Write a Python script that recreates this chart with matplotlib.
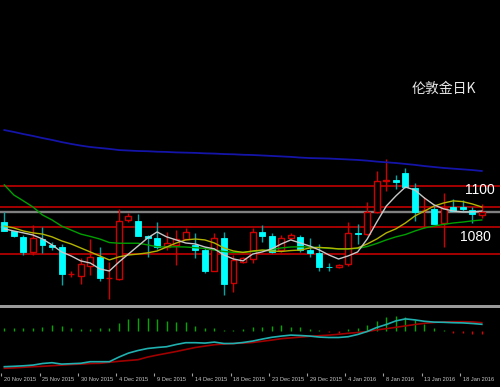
import matplotlib
matplotlib.use('Agg')
import matplotlib.pyplot as plt
from matplotlib.patches import Rectangle
import matplotlib.transforms as mtransforms

# ---------------- data ----------------
date_labels = ['20 Nov 2015', '25 Nov 2015', '30 Nov 2015', '4 Dec 2015', '9 Dec 2015',
               '14 Dec 2015', '18 Dec 2015', '23 Dec 2015', '29 Dec 2015', '4 Jan 2016',
               '8 Jan 2016', '13 Jan 2016', '18 Jan 2016']
date_pos = [0, 4, 8, 12, 16, 20, 24, 28, 32, 36, 40, 44, 48]

opens = [1093.8, 1089.8, 1087.4, 1081.0, 1086.3, 1083.8, 1083.1, 1071.5, 1070.7, 1075.0,
         1078.6, 1069.7, 1069.4, 1094.5, 1094.1, 1087.7, 1086.7, 1083.1, 1083.8, 1086.3,
         1083.8, 1081.7, 1072.9, 1086.7, 1067.6, 1076.8, 1077.8, 1089.5, 1087.7, 1081.7,
         1086.7, 1087.4, 1081.7, 1080.6, 1074.6, 1074.4, 1075.8, 1089.1, 1088.4, 1097.7,
         1111.2, 1111.5, 1114.3, 1108.0, 1098.7, 1099.0, 1093.1, 1099.9, 1100.1, 1098.7,
         1096.6]
highs = [1098.0, 1090.0, 1088.1, 1092.3, 1091.4, 1085.0, 1084.3, 1072.9, 1078.2, 1086.3,
         1083.1, 1076.8, 1099.0, 1097.6, 1097.0, 1087.9, 1093.8, 1089.5, 1090.2, 1090.9,
         1089.1, 1083.1, 1088.8, 1089.2, 1079.6, 1078.7, 1091.2, 1092.3, 1089.1, 1088.1,
         1088.8, 1088.1, 1086.7, 1084.3, 1076.1, 1075.6, 1093.8, 1092.8, 1102.3, 1115.4,
         1120.3, 1113.6, 1116.4, 1110.1, 1104.4, 1100.4, 1106.1, 1103.3, 1103.0, 1099.9,
         1101.3]
lows = [1089.6, 1087.2, 1079.6, 1079.6, 1080.6, 1081.7, 1066.9, 1070.1, 1067.3, 1071.1,
        1068.7, 1060.9, 1069.0, 1093.8, 1087.7, 1078.9, 1082.0, 1081.7, 1075.4, 1086.2,
        1078.2, 1072.1, 1072.7, 1062.6, 1064.0, 1076.3, 1076.3, 1085.0, 1080.3, 1081.0,
        1086.3, 1081.0, 1078.9, 1072.8, 1072.9, 1074.1, 1075.0, 1084.1, 1088.2, 1097.5,
        1106.9, 1107.5, 1108.2, 1094.2, 1090.9, 1092.6, 1083.1, 1098.0, 1098.0, 1093.3,
        1095.5]
closes = [1089.8, 1087.8, 1081.0, 1086.7, 1083.8, 1083.1, 1071.5, 1071.6, 1075.6, 1078.6,
          1069.7, 1069.8, 1094.2, 1096.2, 1087.8, 1086.7, 1083.1, 1084.6, 1086.3, 1089.2,
          1081.7, 1072.9, 1086.7, 1067.3, 1077.5, 1078.5, 1089.5, 1087.7, 1081.0, 1086.7,
          1088.1, 1081.7, 1080.6, 1074.6, 1074.5, 1075.4, 1089.1, 1088.5, 1097.7, 1111.2,
          1111.3, 1110.8, 1108.4, 1098.0, 1098.8, 1092.8, 1099.7, 1098.3, 1099.0, 1096.9,
          1098.0]

ma_white = [1090.7, 1089.8, 1089.0, 1088.1, 1086.4, 1083.9, 1080.9, 1079.2, 1077.1, 1076.2,
            1073.7, 1072.8, 1076.6, 1080.0, 1083.4, 1086.8, 1089.4, 1087.3, 1086.0, 1084.7,
            1084.3, 1083.0, 1082.2, 1079.6, 1077.9, 1077.1, 1080.0, 1080.9, 1082.2, 1084.3,
            1086.0, 1084.7, 1083.4, 1081.7, 1079.6, 1077.9, 1079.2, 1080.9, 1086.4, 1093.6,
            1100.4, 1104.7, 1108.5, 1107.2, 1103.8, 1100.9, 1099.2, 1098.3, 1097.9, 1097.9,
            1098.3]
ma_yellow = [1091.9, 1091.1, 1089.8, 1089.0, 1088.5, 1087.3, 1085.6, 1084.3, 1082.6, 1080.9,
             1079.2, 1077.5, 1078.8, 1079.6, 1080.0, 1080.5, 1081.3, 1083.0, 1084.7, 1086.0,
             1086.4, 1086.0, 1084.7, 1082.6, 1081.3, 1080.7, 1081.3, 1081.7, 1081.3, 1081.1,
             1081.5, 1081.7, 1082.6, 1082.8, 1082.6, 1082.2, 1082.2, 1082.6, 1084.3, 1086.4,
             1089.0, 1090.7, 1093.2, 1096.2, 1098.3, 1100.4, 1101.7, 1102.6, 1102.3, 1101.3,
             1100.0]
ma_green = [1109.4, 1105.1, 1102.6, 1100.0, 1096.6, 1094.5, 1091.9, 1090.2, 1088.5, 1087.5,
            1086.4, 1084.9, 1084.6, 1084.6, 1084.6, 1083.9, 1083.1, 1083.0, 1083.1, 1083.0,
            1082.7, 1082.4, 1081.7, 1081.1, 1080.7, 1080.7, 1081.1, 1081.5, 1081.9, 1082.6,
            1083.0, 1083.1, 1083.0, 1082.8, 1082.4, 1082.2, 1082.2, 1082.4, 1083.2, 1084.5,
            1086.0, 1087.3, 1088.3, 1089.8, 1091.1, 1091.9, 1092.6, 1093.2, 1093.6, 1094.1,
            1094.5]
ma_blue = [1132.7, 1131.9, 1131.0, 1130.2, 1129.3, 1128.5, 1127.6, 1126.8, 1126.1, 1125.5,
           1125.1, 1124.7, 1124.2, 1124.0, 1123.8, 1123.7, 1123.5, 1123.4, 1123.2, 1123.1,
           1123.0, 1122.8, 1122.7, 1122.5, 1122.4, 1122.2, 1122.1, 1121.9, 1121.7, 1121.5,
           1121.3, 1121.0, 1120.8, 1120.7, 1120.6, 1120.4, 1120.2, 1120.0, 1119.7, 1119.3,
           1119.0, 1118.7, 1118.3, 1117.9, 1117.4, 1117.0, 1116.6, 1116.3, 1116.0, 1115.7,
           1115.3]

red_levels = [1108.9, 1100.0, 1091.6, 1080.0]
gray_level = 1098.0

hist = [1.2, 1.5, 1.2, 1.5, 2.0, 2.8, 2.3, 1.5, 0.7, 0.7,
        1.2, 1.5, 3.7, 5.8, 6.2, 6.2, 5.7, 4.8, 4.5, 4.2,
        2.3, 1.5, 1.2, 0.5, 0.5, 1.0, 1.7, 2.0, 2.5, 2.8,
        2.0, 2.0, 0.7, 0.3, -0.8, -1.3, 0.7, 1.2, 2.8, 5.0,
        6.7, 7.3, 7.0, 5.3, 3.3, 1.5, 0.3, -1.3, -1.3, -1.8,
        -1.8]
osc_cyan = [-18.0, -17.8, -17.55, -17.2, -16.4, -16.0, -16.7, -16.5, -16.3, -15.5,
            -15.5, -15.5, -13.2, -11.2, -9.9, -8.9, -8.4, -8.0, -6.9, -6.0,
            -6.0, -6.2, -5.7, -6.4, -6.4, -5.9, -5.2, -4.2, -3.3, -2.7,
            -2.2, -2.4, -2.7, -3.2, -3.4, -3.4, -3.0, -1.9, -0.4, 1.6,
            3.1, 4.9, 5.9, 5.4, 4.7, 4.3, 4.2, 4.0, 3.9, 3.6,
            3.2]
osc_red = [-18.8, -18.6, -18.3, -18.0, -17.8, -17.5, -17.2, -16.9, -16.7, -16.4,
           -16.3, -15.8, -15.3, -14.9, -14.5, -13.2, -12.2, -11.3, -10.4, -9.4,
           -8.4, -7.7, -7.0, -6.7, -6.4, -6.2, -5.9, -5.3, -4.7, -4.0,
           -3.6, -3.2, -2.8, -2.5, -2.2, -1.8, -1.3, -0.9, -0.4, 0.4,
           1.0, 1.7, 2.4, 3.1, 3.7, 4.1, 4.4, 4.5, 4.5, 4.4,
           4.0]

title_text = '伦敦金日K'
level_labels = ['1100', '1080']

# ---------------- figure ----------------
W, H = 500, 387
fig = plt.figure(figsize=(W / 100, H / 100), dpi=100, facecolor='black')

ax = fig.add_axes([0, 1 - 304 / H, 1, 304 / H], facecolor='black')
ax2 = fig.add_axes([0, 1 - 373 / H, 1, 65 / H], facecolor='black')

n = len(opens)
xs = list(range(n))
xlim = (-0.45, -0.45 + 500 / 9.55)

# horizontal levels
for lv in red_levels:
    ax.axhline(lv, color='#a00000', lw=1.45, zorder=1)
ax.axhline(gray_level, color='#808080', lw=1.7, zorder=1)

# candles
w = 0.62
cyan = '#00ffff'
cyan_wick = '#00a8a8'
red = '#d00000'
for i, (o, h, l, c) in enumerate(zip(opens, highs, lows, closes)):
    if c < o:
        ax.vlines(i, l, h, color=cyan_wick, lw=1.0, zorder=3)
        ax.add_patch(Rectangle((i - w / 2, c), w, o - c, facecolor=cyan,
                               edgecolor=cyan, lw=0.6, zorder=4))
    else:
        ax.vlines(i, l, h, color=red, lw=1.0, zorder=3)
        ax.add_patch(Rectangle((i - w / 2, o), w, c - o, facecolor='black',
                               edgecolor=red, lw=1.0, zorder=4))

# moving averages
ax.plot(xs, ma_blue, color='#1414a8', lw=1.3, zorder=5)
ax.plot(xs, ma_green, color='#00a000', lw=1.0, zorder=5)
ax.plot(xs, ma_yellow, color='#b4b400', lw=1.0, zorder=5)
ax.plot(xs, ma_white, color='#c8c8c8', lw=1.0, zorder=6)

ax.set_xlim(*xlim)
ax.set_ylim(1058.775, 1187.975)
ax.set_xticks([])
ax.set_yticks([])
for s in ax.spines.values():
    s.set_visible(False)

# lower oscillator panel
for i, v in enumerate(hist):
    ax2.vlines(i, 0, v, color='#00a800' if v >= 0 else '#e00000', lw=1.0, zorder=2)
ax2.plot(xs, osc_red, color='#a00000', lw=1.2, zorder=3)
ax2.plot(xs, osc_cyan, color='#20b0b0', lw=1.2, zorder=4)
ax2.set_xlim(*xlim)
ax2.set_ylim(-21.15, 11.35)
ax2.set_yticks([])
ax2.set_xticks([p - 0.3 for p in date_pos])
ax2.set_xticklabels([])
ax2.tick_params(axis='x', length=1.8, width=0.8, color='#a0a0a0', direction='out')
for s in ax2.spines.values():
    s.set_visible(False)

trans = mtransforms.blended_transform_factory(ax2.transData, ax2.transAxes)
for p, lab in zip(date_pos, date_labels):
    ax2.text(p, -0.1, lab, transform=trans, ha='left', va='center',
             fontsize=4.1, color='#c8c8c8', family=['Liberation Sans', 'DejaVu Sans'],
             clip_on=False)

# separator band
fig.patches.append(Rectangle((0, 1 - 307.5 / H), 1, 3 / H, transform=fig.transFigure,
                             facecolor='#9a9a9a', edgecolor='none'))

# texts
fig.text(411.7 / W, 1 - 88.5 / H, title_text, ha='left', va='center', fontsize=10,
         color='#e8e8e8', family=['Noto Sans CJK SC', 'DejaVu Sans'])
fig.text(480 / W, 1 - 190.5 / H, level_labels[0], ha='center', va='center', fontsize=10,
         color='white', family=['Liberation Sans', 'DejaVu Sans'])
fig.text(475 / W, 1 - 237 / H, level_labels[1], ha='center', va='center', fontsize=10,
         color='white', family=['Liberation Sans', 'DejaVu Sans'])

fig.savefig('out.png', dpi=100, facecolor='black')
